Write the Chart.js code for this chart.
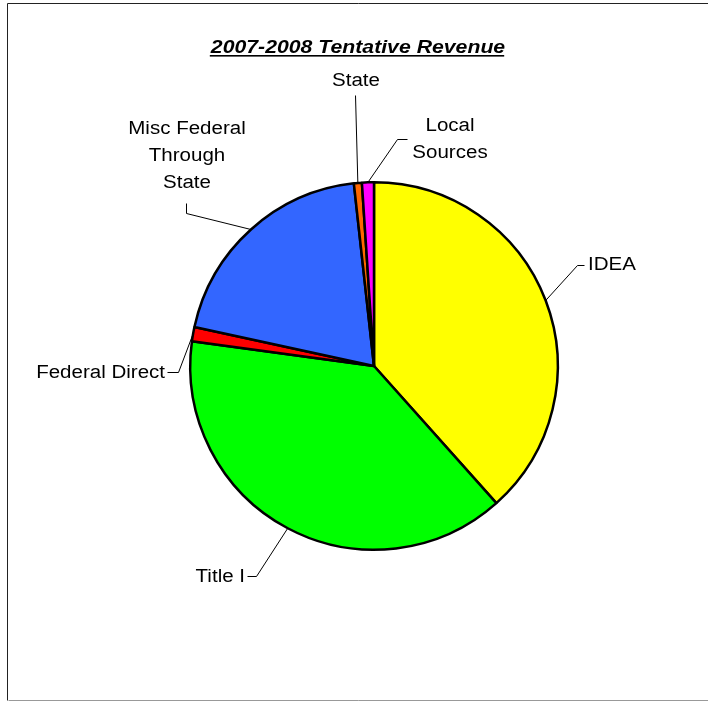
<!DOCTYPE html>
<html>
<head>
<meta charset="utf-8">
<script src="https://cdn.jsdelivr.net/npm/chart.js@4"></script>
<style>
  html, body { margin: 0; padding: 0; background: #fff; }
  #wrap { position: relative; width: 708px; height: 702px; }
</style>
</head>
<body>
<div id="wrap"><canvas id="c" width="708" height="702"></canvas></div>
<script>
// Revenue sources, share of the total (%)
const categories = ['IDEA', 'Title I', 'Federal Direct', 'Misc Federal Through State', 'State', 'Local Sources'];
const shares = [38.4, 38.75, 1.25, 19.85, 0.7, 1.05];
const labelLines = [['IDEA'], ['Title I'], ['Federal Direct'], ['Misc Federal', 'Through', 'State'], ['State'], ['Local', 'Sources']];
const sliceColors = ['#FFFF00', '#00FF00', '#FF0000', '#3366FF', '#FF6600', '#FF00FF'];
const chartTitle = '2007-2008 Tentative Revenue';

// Leader-line bends and text anchors (centre of the text block), in pixels from the pie centre
const labelLayout = [
  { bend: [[203, -101], [210, -101]], text: [214, -101], align: 'left' },
  { bend: [[-118, 210], [-127, 210]], text: [-129, 211], align: 'right' },
  { bend: [[-196, 6], [-207, 6]], text: [-209, 7], align: 'right' },
  { bend: [[-188, -153], [-188, -163]], text: [-187, -210], align: 'center' },
  { bend: [[-19, -271]], text: [-18, -285], align: 'center' },
  { bend: [[23, -227], [33, -227]], text: [76, -226], align: 'center' }
];

const FONT = '"Liberation Sans", Arial, sans-serif';
const STRETCH = 1.14;
const LINE_H = 27;

function stretchedText(ctx, str, x, y, align, sx) {
  ctx.save();
  ctx.translate(x, y);
  ctx.scale(sx || STRETCH, 1);
  ctx.textAlign = align;
  ctx.fillText(str, 0, 0);
  ctx.restore();
}

const decorations = {
  id: 'decorations',
  beforeDraw(chart) {
    const ctx = chart.ctx;
    ctx.save();
    ctx.fillStyle = '#fff';
    ctx.fillRect(0, 0, chart.width, chart.height);
    // frame
    ctx.lineWidth = 1;
    ctx.strokeStyle = '#222';
    ctx.beginPath();
    ctx.moveTo(7.5, 700.5); ctx.lineTo(7.5, 3.5); ctx.lineTo(720, 3.5);
    ctx.stroke();
    ctx.strokeStyle = '#999';
    ctx.beginPath();
    ctx.moveTo(8.5, 700.5); ctx.lineTo(720, 700.5);
    ctx.stroke();
    ctx.restore();
  },
  afterDraw(chart) {
    const ctx = chart.ctx;
    const meta = chart.getDatasetMeta(0);
    ctx.save();

    // title, bold italic and underlined
    ctx.fillStyle = '#000';
    ctx.font = 'italic bold 18px ' + FONT;
    ctx.textBaseline = 'alphabetic';
    const tx = 358, ty = 53, tsx = 1.18;
    stretchedText(ctx, chartTitle, tx, ty, 'center', tsx);
    const tw = ctx.measureText(chartTitle).width * tsx;
    ctx.fillRect(tx - tw / 2 - 1, ty + 2, tw, 1.6);

    // leader lines and slice labels
    ctx.font = '18px ' + FONT;
    ctx.textBaseline = 'middle';
    ctx.strokeStyle = '#000';
    ctx.lineWidth = 1;
    meta.data.forEach((arc, i) => {
      const cx = arc.x, cy = arc.y;
      const mid = (arc.startAngle + arc.endAngle) / 2;
      const r = arc.outerRadius;
      const spec = labelLayout[i];
      ctx.beginPath();
      ctx.moveTo(cx + r * Math.cos(mid), cy + r * Math.sin(mid));
      spec.bend.forEach(p => ctx.lineTo(cx + p[0] + 0.5, cy + p[1] + 0.5));
      ctx.stroke();
      const lines = labelLines[i];
      const x0 = cx + spec.text[0];
      const y0 = cy + spec.text[1] - (lines.length - 1) * LINE_H / 2;
      lines.forEach((ln, k) => stretchedText(ctx, ln, x0, y0 + k * LINE_H, spec.align));
    });
    ctx.restore();
  }
};

new Chart(document.getElementById('c'), {
  type: 'pie',
  data: {
    labels: categories,
    datasets: [{
      data: shares,
      backgroundColor: sliceColors,
      borderColor: '#000',
      borderWidth: 2.5
    }]
  },
  options: {
    responsive: false,
    animation: false,
    layout: { padding: { left: 189, right: 149, top: 181, bottom: 151 } },
    plugins: {
      legend: { display: false },
      title: { display: false },
      tooltip: { enabled: false }
    }
  },
  plugins: [decorations]
});
</script>
</body>
</html>
